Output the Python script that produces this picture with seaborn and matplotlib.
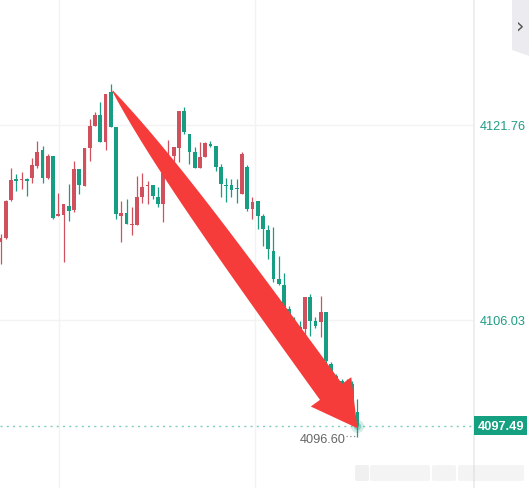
import numpy as np
import seaborn as sns
import matplotlib.pyplot as plt
from matplotlib.patches import Polygon, Rectangle, FancyBboxPatch
from matplotlib.transforms import IdentityTransform

sns.set_theme(style='white')
plt.rcParams['font.family'] = ['Liberation Sans', 'DejaVu Sans']

# candles (red = up, green = down)
OPEN = [4112.32, 4112.64, 4115.71, 4117.40, 4117.32, 4117.40, 4117.48, 4118.45, 4119.74, 4117.48,
        4119.26, 4114.42, 4114.50, 4115.22, 4114.90, 4118.21, 4116.84, 4119.90, 4121.68, 4122.56,
        4120.39, 4124.42, 4121.60, 4114.42, 4114.66, 4113.69, 4113.69, 4115.95, 4116.84, 4116.92,
        4115.95, 4115.38, 4117.88, 4119.26, 4119.90, 4122.89, 4121.03, 4119.58, 4118.29, 4119.18,
        4120.22, 4120.06, 4118.37, 4116.92, 4116.92, 4116.68, 4116.19, 4118.37, 4114.98, 4115.63,
        4114.42, 4113.29, 4111.59, 4109.33, 4108.85, 4106.91, 4105.95, 4105.46, 4105.30, 4107.88,
        4105.95, 4105.87, 4106.67, 4102.48, 4101.51, 4101.11, 4101.02, 4100.86, 4098.60]
HIGH = [4112.96, 4115.71, 4118.29, 4117.80, 4117.97, 4117.48, 4119.10, 4120.47, 4120.06, 4119.42,
        4119.26, 4116.27, 4115.38, 4117.00, 4118.85, 4118.21, 4119.90, 4122.24, 4122.81, 4123.61,
        4124.26, 4125.06, 4121.60, 4115.63, 4115.79, 4115.14, 4117.64, 4117.88, 4117.24, 4116.92,
        4116.76, 4117.88, 4120.55, 4119.98, 4122.89, 4123.21, 4121.03, 4119.98, 4120.39, 4120.39,
        4120.47, 4120.06, 4118.61, 4117.48, 4117.40, 4117.40, 4119.58, 4118.53, 4115.95, 4115.63,
        4114.58, 4113.69, 4113.53, 4111.19, 4109.82, 4107.16, 4106.27, 4105.95, 4107.88, 4108.12,
        4106.27, 4107.96, 4106.67, 4102.64, 4101.67, 4101.27, 4101.27, 4101.11, 4099.65]
LOW = [4110.54, 4112.56, 4115.63, 4116.43, 4116.59, 4116.03, 4117.08, 4118.29, 4117.08, 4117.40,
       4114.17, 4114.42, 4110.71, 4114.01, 4114.74, 4116.19, 4116.84, 4118.85, 4121.68, 4120.39,
       4119.74, 4121.60, 4114.17, 4112.32, 4113.77, 4112.88, 4113.69, 4115.47, 4115.38, 4115.79,
       4115.14, 4113.93, 4117.88, 4118.77, 4118.77, 4121.03, 4118.61, 4118.29, 4118.29, 4119.18,
       4119.98, 4118.05, 4115.95, 4115.55, 4115.95, 4115.47, 4116.19, 4114.82, 4114.17, 4113.37,
       4112.00, 4110.95, 4109.09, 4108.85, 4106.75, 4105.95, 4105.30, 4104.74, 4104.49, 4104.74,
       4105.38, 4104.66, 4102.56, 4101.43, 4100.86, 4100.62, 4100.46, 4098.68, 4096.60]
CLOSE = [4112.64, 4115.63, 4117.32, 4117.24, 4117.40, 4117.24, 4118.53, 4119.58, 4117.48, 4119.26,
         4114.25, 4114.58, 4115.38, 4114.82, 4118.21, 4116.92, 4119.90, 4121.68, 4122.56, 4120.39,
         4124.26, 4121.60, 4114.58, 4114.66, 4113.77, 4113.77, 4115.95, 4116.76, 4116.92, 4116.03,
         4115.38, 4117.88, 4119.26, 4119.98, 4122.89, 4121.19, 4119.58, 4118.29, 4119.18, 4120.30,
         4120.06, 4118.37, 4117.00, 4116.84, 4116.51, 4116.59, 4119.42, 4114.98, 4115.55, 4114.42,
         4113.37, 4111.76, 4109.33, 4108.93, 4106.91, 4105.95, 4105.54, 4104.90, 4107.88, 4105.95,
         4105.54, 4106.67, 4102.72, 4101.51, 4101.02, 4100.86, 4100.78, 4098.85, 4097.49]

Y_TICKS = [4121.76, 4106.03]
LAST_PRICE = 4097.49
LOW_PRICE = 4096.60

UP = '#d0505e'
DOWN = '#179e82'
ARROW_RED = '#f63b3b'

W, H = 529, 489
fig = plt.figure(figsize=(W / 100, H / 100), dpi=100)
fig.patch.set_facecolor('white')
ax = fig.add_axes([0, 0, 474 / W, 1])
ax.set_facecolor('white')

idx = np.arange(len(OPEN))
o, hi, lo, c = map(np.asarray, (OPEN, HIGH, LOW, CLOSE))
colors = np.where(c > o, UP, DOWN)

ax.set_xlim(-0.1, 90.2)
ax.set_ylim(4092.47, 4131.92)

# light grid
for gx in (11.05, 48.4):
    ax.axvline(gx, color='#f3f3f3', lw=1, zorder=0)
for gy in Y_TICKS:
    ax.axhline(gy, color='#f3f3f3', lw=1, zorder=0)

# candles
ax.vlines(idx, lo, hi, colors=colors, lw=0.9, zorder=2)
body_h = np.maximum(np.abs(c - o), 0.09)
ax.bar(idx, body_h, bottom=np.minimum(o, c), width=0.74, color=colors, linewidth=0, zorder=3)

# last price line
ax.axhline(LAST_PRICE, color='#7fcdbd', lw=1, ls=(0, (1.5, 3)), zorder=1)
ax.scatter([idx[-1]], [LAST_PRICE], s=90, color=DOWN, alpha=0.18, linewidths=0, zorder=4)
ax.scatter([idx[-1]], [LAST_PRICE], s=30, color=DOWN, alpha=0.35, linewidths=0, zorder=4)

# low label
ax.plot([idx[-1] - 2.1, idx[-1] - 0.2], [LOW_PRICE + 0.08] * 2, color='#888888', lw=0.9,
        ls=(0, (1, 2)), zorder=2)
ax.text(idx[-1] - 2.2, LOW_PRICE - 0.15, f'{LOW_PRICE:.2f}', ha='right', va='center',
        fontsize=9.2, color='#666666')

# axis styling
for sp in ax.spines.values():
    sp.set_visible(False)
ax.spines['right'].set_visible(True)
ax.spines['right'].set_color('#ececec')
ax.set_xticks([])
ax.yaxis.tick_right()
ax.set_yticks(Y_TICKS)
ax.set_yticklabels([f'{v:.2f}' for v in Y_TICKS])
ax.tick_params(axis='y', length=0, pad=4, labelsize=9.2, labelcolor='#1f9c84')

# last price tag
tag_y = ax.transData.transform((0, LAST_PRICE))[1]
fig.patches.append(Rectangle((474, tag_y - 9.5), 53, 19, transform=IdentityTransform(),
                             facecolor='#15a082', edgecolor='none', zorder=5))
fig.text(478 / W, tag_y / H, f'{LAST_PRICE:.2f}', ha='left', va='center', fontsize=9.2,
         fontweight='bold', color='white', zorder=7)

# collapse tab top right
fig.patches.append(Polygon([(512, H), (W, H), (W, H - 57), (512, H - 51)], closed=True,
                           transform=IdentityTransform(), facecolor='#ececf0', edgecolor='none'))
fig.text(520.5 / W, 1 - 26 / H, '›', ha='center', va='center', fontsize=15, color='#555555',
         family='DejaVu Sans')

# blurred watermark bottom right
for x0, wd, a in [(357, 10, 0.3), (372, 56, 0.22), (434, 20, 0.22), (460, 62, 0.22)]:
    fig.patches.append(FancyBboxPatch((x0, H - 480), wd, 12, boxstyle='round,pad=2',
                                      transform=IdentityTransform(), facecolor='#cfcfcf',
                                      edgecolor='none', alpha=a))

# red annotation arrow, peak to last low
peak = int(np.argmax(hi))
tail = ax.transData.transform((peak + 0.35, hi[peak] - 0.55))
tip = ax.transData.transform((idx[-1], LAST_PRICE - 0.2))
vec = tip - tail
length = np.linalg.norm(vec)
d = vec / length
n = np.array([-d[1], d[0]])
head_len, head_hw, shaft_w = 45, 25, 27
s = np.linspace(0, length - head_len, 80)
w = shaft_w * (1 - np.exp(-s / 100)) + 1
left = tail + np.outer(s, d) + np.outer(w / 2, n)
right = tail + np.outer(s, d) - np.outer(w / 2, n)
base = tail + (length - head_len) * d
pts = np.vstack([left, base + head_hw * n, tip, base - head_hw * n, right[::-1]])
fig.patches.append(Polygon(pts, closed=True, transform=IdentityTransform(),
                           facecolor=ARROW_RED, edgecolor='none', zorder=10))

fig.savefig('out.png', dpi=100)
